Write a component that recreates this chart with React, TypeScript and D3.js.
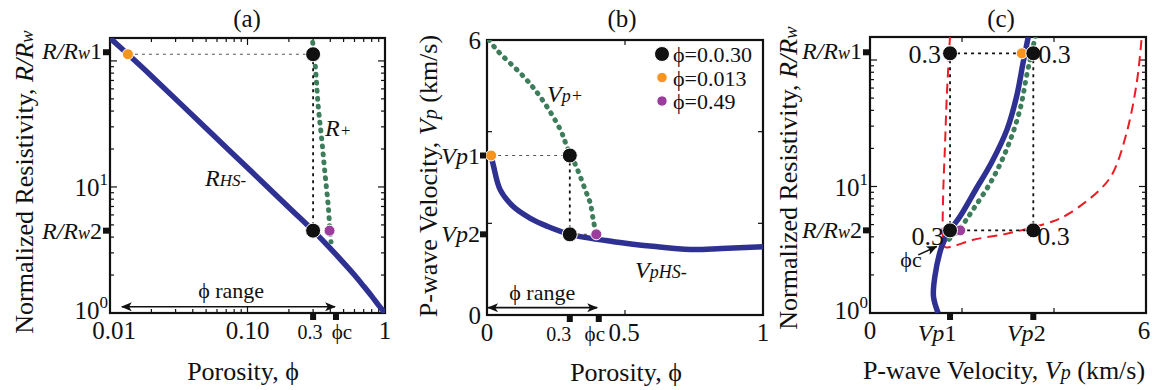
import * as d3 from "d3";

const FONT = "'Liberation Serif', 'Times New Roman', Times, serif";
const BLUE = "#2e3192";
const GREEN = "#3d7d5c";
const ORANGE = "#f7941d";
const PURPLE = "#9c3c9c";
const RED = "#ed1c24";
const INK = "#111";

// panel (a): normalized resistivity vs porosity (log-log)
const phiHsA = [0.01, 0.0135, 0.02, 0.05, 0.1, 0.2, 0.3, 0.4, 0.5, 0.6, 0.7, 0.8, 0.9, 1];
const resHsA = [152, 113, 76, 29.2, 14.2, 6.87, 4.5, 3.26, 2.5, 2.0, 1.63, 1.36, 1.15, 1];
const phiPlusA = [0.298, 0.31, 0.327, 0.347, 0.366, 0.387, 0.398, 0.405];
const resPlusA = [140, 95.9, 43.4, 23.6, 12.8, 6.98, 4.42, 3.68];

// panel (b): P-wave velocity vs porosity
const phiHsB = [0.015, 0.024, 0.048, 0.096, 0.157, 0.217, 0.302, 0.459, 0.6, 0.737, 0.85, 1.0];
const vpHsB = [3.48, 3.24, 2.73, 2.36, 2.11, 1.94, 1.76, 1.6, 1.5, 1.43, 1.45, 1.49];
const phiPlusB = [0.007, 0.036, 0.133, 0.193, 0.266, 0.29, 0.326, 0.356, 0.374, 0.386, 0.396];
const vpPlusB = [6.0, 5.78, 5.2, 4.76, 4.04, 3.67, 3.2, 2.73, 2.44, 2.04, 1.77];

// panel (c): normalized resistivity vs P-wave velocity
const vpHsC = [3.44, 3.33, 3.19, 2.98, 2.64, 2.3, 1.96, 1.7, 1.56, 1.41, 1.38, 1.48];
const resHsC = [152, 95.9, 52.1, 28.3, 15.4, 9.47, 5.81, 4.29, 3.36, 1.94, 1.35, 1.0];
const vpPlusC = [3.6, 3.5, 3.42, 3.26, 3.0, 2.66, 2.24, 1.96, 1.67];
const resPlusC = [156, 108, 79.9, 40.5, 20.9, 11.4, 6.57, 4.7, 3.68];
const vpBoundC = [1.74, 1.67, 1.63, 1.59, 1.59, 1.63, 1.74, 2.25, 3.04, 3.98, 4.35, 5.0, 5.28, 5.58, 5.8, 5.91];
const resBoundC = [156, 52.1, 20.9, 8.37, 3.79, 3.32, 3.32, 3.79, 4.29, 5.31, 6.18, 9.46, 12.8, 26.7, 66.5, 156];

// marked states
const R1 = 113;
const R2 = 4.5;
const PHI_MID = 0.3;
const PHI_LOW_A = 0.0135;
const PHI_HIGH_A = 0.395;
const PHI_C_A = 0.44;
const PHI_LOW_B = 0.015;
const PHI_HIGH_B = 0.396;
const PHI_C_B = 0.405;
const VP1B = 3.48;
const VP2B = 1.76;
const VP1C = 1.74;
const VP2C = 3.55;
const VP_ORANGE_C = 3.3;
const VP_PURPLE_C = 1.96;

const legendLabels = ["ϕ=0.0.30", "ϕ=0.013", "ϕ=0.49"];
const legendColors = [INK, ORANGE, PURPLE];

const xTicksA = [0.01, 0.1, 1];
const xTickTextA = ["0.01", "0.10", "1"];
const xTicksB = [0, 0.5, 1];
const xTickTextB = ["0", "0.5", "1"];
const yTicksB = [0, 2, 4, 6];
const xTicksC = [0, 2, 4, 6];

const ax = d3.scaleLog().domain([0.01, 1]).range([110, 385]);
const ay = d3.scaleLog().domain([1, 152]).range([313, 38]);
const bx = d3.scaleLinear().domain([0, 1]).range([487, 763]);
const by = d3.scaleLinear().domain([0, 6]).range([315, 40]);
const cx = d3.scaleLinear().domain([0, 6]).range([870, 1146]);
const cy = d3.scaleLog().domain([1, 152]).range([313, 37]);

type Sc = (v: number) => number;

function path(xs: number[], ys: number[], sx: Sc, sy: Sc) {
  const line = d3
    .line<number>()
    .x((d) => sx(d))
    .y((_, i) => sy(ys[i]))
    .curve(d3.curveCatmullRom.alpha(0.5));
  return line(xs) || "";
}

const isMajor = (v: number) => Math.abs(Math.log10(v) - Math.round(Math.log10(v))) < 1e-9;

function Frame({ x0, x1, y0, y1, xt, yt }: { x0: number; x1: number; y0: number; y1: number; xt: [number, number][]; yt: [number, number][] }) {
  return (
    <g stroke={INK}>
      {xt.map(([p, len], i) => (
        <g key={"x" + i} strokeWidth={1.2}>
          <line x1={p} x2={p} y1={y1} y2={y1 - len} />
          <line x1={p} x2={p} y1={y0} y2={y0 + len} />
        </g>
      ))}
      {yt.map(([p, len], i) => (
        <g key={"y" + i} strokeWidth={1.2}>
          <line x1={x0} x2={x0 + len} y1={p} y2={p} />
          <line x1={x1} x2={x1 - len} y1={p} y2={p} />
        </g>
      ))}
      <rect x={x0} y={y0} width={x1 - x0} height={y1 - y0} fill="none" strokeWidth={2.2} />
    </g>
  );
}

const Sq = ({ x, y }: { x: number; y: number }) => <rect x={x - 3} y={y - 3} width={6} height={6} fill={INK} />;

const Dot = ({ x, y, r, fill }: { x: number; y: number; r: number; fill: string }) => (
  <circle cx={x} cy={y} r={r} fill={fill} stroke="#fff" strokeWidth={1} />
);

const Big = ({ x, y }: { x: number; y: number }) => <Dot x={x} y={y} r={7.5} fill={INK} />;

const RwLabel = ({ x, y, n }: { x: number; y: number; n: string }) => (
  <text x={x} y={y + 8} textAnchor="end" fontSize={24}>
    <tspan fontStyle="italic">R/R</tspan>
    <tspan fontStyle="italic" fontSize={18}>w</tspan>
    <tspan>{n}</tspan>
  </text>
);

const Pow = ({ x, y, e }: { x: number; y: number; e: string }) => (
  <text x={x} y={y + 9} textAnchor="end" fontSize={25}>
    <tspan>10</tspan>
    <tspan fontSize={17} dy={-11}>{e}</tspan>
  </text>
);

const VpLabel = ({ x, y, n, anchor }: { x: number; y: number; n: string; anchor: string }) => (
  <text x={x} y={y} textAnchor={anchor} fontSize={24}>
    <tspan fontStyle="italic">Vp</tspan>
    <tspan>{n}</tspan>
  </text>
);

const dotted = { stroke: INK, strokeWidth: 1.8, strokeDasharray: "3 4", fill: "none" };
const grayDotted = { stroke: "#555", strokeWidth: 1.2, strokeDasharray: "3 4", fill: "none" };
const greenDots = { stroke: GREEN, strokeWidth: 5, strokeDasharray: "0.8 7.2", strokeLinecap: "round" as const, fill: "none" };

export default function App() {
  const logMinorA = ax.ticks().map((v) => [ax(v), isMajor(v) ? 7 : 4] as [number, number]);
  const logMinorAy = ay.ticks().map((v) => [ay(v), isMajor(v) ? 7 : 4] as [number, number]);
  const logMinorCy = cy.ticks().map((v) => [cy(v), isMajor(v) ? 7 : 4] as [number, number]);
  const arrowYA = ay(1.12);
  const arrowYB = by(0.16);

  return (
    <svg width={1162} height={390} style={{ position: "absolute", left: 0, top: 0, background: "#fff" }} fontFamily={FONT} fill={INK}>
      <defs>
        <marker id="ah" viewBox="0 0 12 10" refX={11} refY={5} markerWidth={13} markerHeight={9} markerUnits="userSpaceOnUse" orient="auto-start-reverse">
          <path d="M0,0 L12,5 L0,10 L3,5 z" fill={INK} />
        </marker>
        <clipPath id="clipA"><rect x={110} y={38} width={275} height={275} /></clipPath>
        <clipPath id="clipB"><rect x={487} y={40} width={276} height={275} /></clipPath>
        <clipPath id="clipC"><rect x={870} y={37} width={276} height={276} /></clipPath>
      </defs>

      {/* ---------- (a) ---------- */}
      <text x={247} y={27} textAnchor="middle" fontSize={25}>(a)</text>
      <Frame x0={110} x1={385} y0={38} y1={313} xt={logMinorA} yt={logMinorAy} />
      <g clipPath="url(#clipA)">
        <path d={path(phiHsA, resHsA, ax, ay)} stroke={BLUE} strokeWidth={5.5} fill="none" />
        <path d={path(phiPlusA, resPlusA, ax, ay)} {...greenDots} />
      </g>
      <line x1={ax(PHI_LOW_A)} x2={ax(PHI_MID)} y1={ay(R1)} y2={ay(R1)} {...grayDotted} />
      <line x1={ax(PHI_MID)} x2={ax(PHI_MID)} y1={ay(R1)} y2={ay(R2)} {...dotted} />
      <Dot x={ax(PHI_LOW_A)} y={ay(R1)} r={5.5} fill={ORANGE} />
      <Big x={ax(PHI_MID)} y={ay(R1)} />
      <Big x={ax(PHI_MID)} y={ay(R2)} />
      <Dot x={ax(PHI_HIGH_A)} y={ay(R2)} r={5.5} fill={PURPLE} />
      <line x1={ax(0.0122)} x2={ax(0.433)} y1={arrowYA} y2={arrowYA} stroke={INK} strokeWidth={1.6} markerStart="url(#ah)" markerEnd="url(#ah)" />
      <text x={ax(0.076)} y={arrowYA - 9} textAnchor="middle" fontSize={22}>ϕ range</text>
      <text x={205} y={186} fontSize={24} fontStyle="italic">R<tspan fontSize={17}>HS-</tspan></text>
      <text x={325} y={136} fontSize={24} fontStyle="italic">R<tspan fontSize={17}>+</tspan></text>
      {xTicksA.map((v, i) => (
        <text key={v} x={ax(v) + (i === 0 ? 4 : 0)} y={339} textAnchor="middle" fontSize={25}>{xTickTextA[i]}</text>
      ))}
      <Sq x={ax(PHI_MID)} y={317} />
      <Sq x={ax(PHI_C_A)} y={317} />
      <text x={ax(PHI_MID) - 3} y={339} textAnchor="middle" fontSize={20}>0.3</text>
      <text x={ax(PHI_C_A) + 6} y={339} textAnchor="middle" fontSize={21}>ϕc</text>
      <Sq x={106} y={ay(R1) - 2} />
      <Sq x={106} y={ay(R2)} />
      <RwLabel x={102} y={ay(R1) - 3} n="1" />
      <RwLabel x={102} y={ay(R2)} n="2" />
      <Pow x={108} y={ay(10)} e="1" />
      <Pow x={108} y={ay(1) - 3} e="0" />
      <text x={243} y={380} textAnchor="middle" fontSize={26}>Porosity, ϕ</text>
      <text transform="translate(33,182) rotate(-90)" textAnchor="middle" fontSize={26}>
        Normalized Resistivity, <tspan fontStyle="italic">R/R</tspan><tspan fontStyle="italic" fontSize={19}>w</tspan>
      </text>

      {/* ---------- (b) ---------- */}
      <text x={622} y={27} textAnchor="middle" fontSize={25}>(b)</text>
      <Frame
        x0={487}
        x1={763}
        y0={40}
        y1={315}
        xt={xTicksB.map((v) => [bx(v), 5] as [number, number])}
        yt={yTicksB.map((v) => [by(v), 5] as [number, number])}
      />
      <g clipPath="url(#clipB)">
        <path d={path(phiHsB, vpHsB, bx, by)} stroke={BLUE} strokeWidth={5.5} fill="none" />
        <path d={path(phiPlusB, vpPlusB, bx, by)} {...greenDots} />
      </g>
      <line x1={bx(PHI_LOW_B)} x2={bx(PHI_MID)} y1={by(VP1B)} y2={by(VP1B)} {...grayDotted} />
      <line x1={bx(PHI_MID)} x2={bx(PHI_MID)} y1={by(VP1B)} y2={by(VP2B)} {...dotted} />
      <line x1={bx(PHI_MID)} x2={bx(PHI_HIGH_B)} y1={by(VP2B)} y2={by(VP2B)} {...grayDotted} />
      <Dot x={bx(PHI_LOW_B)} y={by(VP1B)} r={5.5} fill={ORANGE} />
      <Big x={bx(PHI_MID)} y={by(VP1B)} />
      <Big x={bx(PHI_MID)} y={by(VP2B)} />
      <Dot x={bx(PHI_HIGH_B)} y={by(VP2B)} r={5.5} fill={PURPLE} />
      <line x1={bx(0.004)} x2={bx(0.399)} y1={arrowYB} y2={arrowYB} stroke={INK} strokeWidth={1.6} markerStart="url(#ah)" markerEnd="url(#ah)" />
      <text x={bx(0.2)} y={arrowYB - 8} textAnchor="middle" fontSize={22}>ϕ range</text>
      <text x={547} y={102} fontSize={24} fontStyle="italic">V<tspan fontSize={18}>p+</tspan></text>
      <text x={635} y={278} fontSize={24} fontStyle="italic">V<tspan fontSize={18}>pHS-</tspan></text>
      {legendLabels.map((t, i) => (
        <g key={t}>
          <Dot x={662} y={54 + i * 23.5} r={i === 0 ? 7.5 : 5.2} fill={legendColors[i]} />
          <text x={673} y={62 + i * 23.5} fontSize={22}>{t}</text>
        </g>
      ))}
      {xTicksB.map((v, i) => (
        <text key={v} x={bx(v) + (v === 0.5 ? -1 : 0)} y={341} textAnchor="middle" fontSize={25}>{xTickTextB[i]}</text>
      ))}
      <Sq x={bx(PHI_MID)} y={319} />
      <Sq x={bx(PHI_C_B)} y={319} />
      <text x={bx(PHI_MID) - 11} y={341} textAnchor="middle" fontSize={20}>0.3</text>
      <text x={bx(PHI_C_B) - 4} y={341} textAnchor="middle" fontSize={21}>ϕc</text>
      <text x={481} y={by(6) + 9} textAnchor="end" fontSize={25}>6</text>
      <text x={481} y={by(0) + 9} textAnchor="end" fontSize={25}>0</text>
      <Sq x={483} y={by(VP1B)} />
      <Sq x={483} y={by(VP2B)} />
      <VpLabel x={480} y={by(VP1B) + 8} n="1" anchor="end" />
      <VpLabel x={480} y={by(VP2B) + 8} n="2" anchor="end" />
      <text x={626} y={381} textAnchor="middle" fontSize={26}>Porosity, ϕ</text>
      <text transform="translate(437,176) rotate(-90)" textAnchor="middle" fontSize={26}>
        P-wave Velocity, <tspan fontStyle="italic">V</tspan><tspan fontStyle="italic" fontSize={20}>p</tspan> (km/s)
      </text>

      {/* ---------- (c) ---------- */}
      <text x={1001} y={27} textAnchor="middle" fontSize={25}>(c)</text>
      <Frame x0={870} x1={1146} y0={37} y1={313} xt={xTicksC.map((v) => [cx(v), 5] as [number, number])} yt={logMinorCy} />
      <g clipPath="url(#clipC)">
        <path d={path(vpBoundC, resBoundC, cx, cy)} stroke={RED} strokeWidth={2} strokeDasharray="10 6" fill="none" />
        <path d={path(vpHsC, resHsC, cx, cy)} stroke={BLUE} strokeWidth={5.5} fill="none" />
        <path d={path(vpPlusC, resPlusC, cx, cy)} {...greenDots} />
      </g>
      <line x1={cx(VP1C)} x2={cx(VP2C)} y1={cy(R1)} y2={cy(R1)} {...dotted} />
      <line x1={cx(VP1C)} x2={cx(VP1C)} y1={cy(R1)} y2={cy(R2)} {...dotted} />
      <line x1={cx(VP2C)} x2={cx(VP2C)} y1={cy(R1)} y2={cy(R2)} {...dotted} />
      <line x1={cx(VP_PURPLE_C)} x2={cx(VP2C)} y1={cy(R2)} y2={cy(R2)} {...dotted} />
      <Dot x={cx(VP_ORANGE_C)} y={cy(R1)} r={5.5} fill={ORANGE} />
      <Big x={cx(VP1C)} y={cy(R1)} />
      <Big x={cx(VP2C)} y={cy(R1)} />
      <Dot x={cx(VP_PURPLE_C)} y={cy(R2)} r={5.5} fill={PURPLE} />
      <Big x={cx(VP1C)} y={cy(R2)} />
      <Big x={cx(VP2C)} y={cy(R2)} />
      <text x={cx(VP1C) - 9} y={cy(R1) + 10} textAnchor="end" fontSize={26}>0.3</text>
      <text x={cx(VP2C) + 5} y={cy(R1) + 10} fontSize={26}>0.3</text>
      <text x={cx(VP1C) - 6} y={cy(R2) + 15} textAnchor="end" fontSize={26}>0.3</text>
      <text x={cx(VP2C) + 4} y={cy(R2) + 15} fontSize={26}>0.3</text>
      <line x1={cx(1.05)} y1={cy(2.88)} x2={cx(1.45)} y2={cy(3.36)} stroke={INK} strokeWidth={1.6} markerEnd="url(#ah)" />
      <text x={911} y={267} textAnchor="middle" fontSize={22}>ϕc</text>
      <text x={cx(0)} y={339} textAnchor="middle" fontSize={25}>0</text>
      <text x={cx(6) - 2} y={339} textAnchor="middle" fontSize={25}>6</text>
      <Sq x={cx(VP1C)} y={317} />
      <Sq x={cx(VP2C)} y={317} />
      <VpLabel x={cx(VP1C) - 13} y={341} n="1" anchor="middle" />
      <VpLabel x={cx(VP2C) - 7} y={341} n="2" anchor="middle" />
      <Sq x={866} y={cy(R1) - 1} />
      <Sq x={866} y={cy(R2)} />
      <RwLabel x={862} y={cy(R1) - 2} n="1" />
      <RwLabel x={862} y={cy(R2)} n="2" />
      <Pow x={868} y={cy(10)} e="1" />
      <Pow x={868} y={cy(1) - 3} e="0" />
      <text x={1004} y={379} textAnchor="middle" fontSize={26}>
        P-wave Velocity, <tspan fontStyle="italic">V</tspan><tspan fontStyle="italic" fontSize={20}>p</tspan> (km/s)
      </text>
      <text transform="translate(797,178) rotate(-90)" textAnchor="middle" fontSize={26}>
        Normalized Resistivity, <tspan fontStyle="italic">R/R</tspan><tspan fontStyle="italic" fontSize={19}>w</tspan>
      </text>
    </svg>
  );
}
